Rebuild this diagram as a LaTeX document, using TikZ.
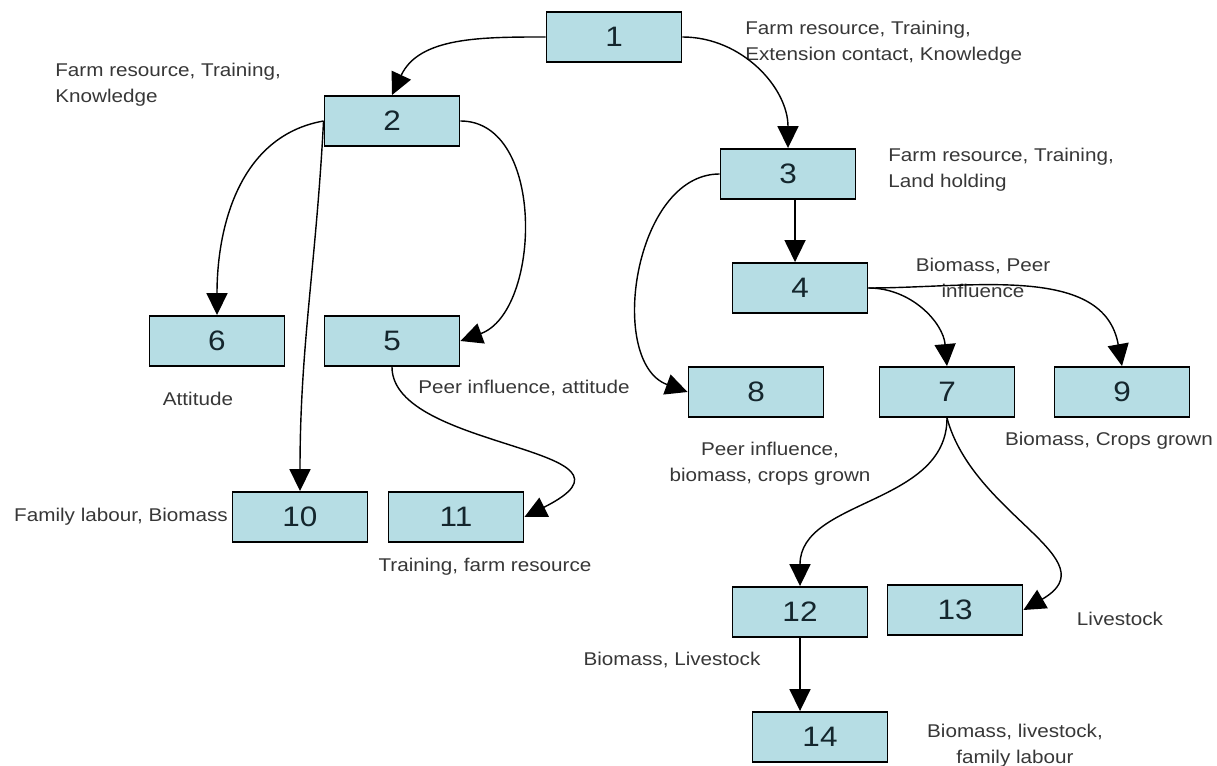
\documentclass[tikz,border=0pt]{standalone}
\usepackage{fontspec}
\setmainfont{Liberation Sans}[FakeStretch=1.12]
\usetikzlibrary{arrows.meta}

\definecolor{boxfill}{RGB}{182,221,228}
\definecolor{labelgray}{RGB}{55,55,55}
\definecolor{numdark}{RGB}{20,38,45}

\begin{document}
\begin{tikzpicture}[x=0.02cm,y=0.02cm,
  box/.style={draw,line width=1.1pt,fill=boxfill,text=numdark,minimum width=2.7cm,minimum height=1cm,font=\fontsize{16}{16}\selectfont},
  lbl/.style={text=labelgray,font=\fontsize{10.5}{14.7}\selectfont,inner sep=0pt},
  link/.style={thick,-{Triangle[length=12.5pt,width=12pt]}}]
  \useasboundingbox (0,0) rectangle (1217,-766);

  % boxes
  \node[box] (n1) at (614,-37) {1};
  \node[box] (n2) at (392,-121) {2};
  \node[box] (n3) at (788,-174) {3};
  \node[box] (n4) at (800,-288) {4};
  \node[box] (n6) at (217,-341) {6};
  \node[box] (n5) at (392,-341) {5};
  \node[box] (n8) at (756,-392) {8};
  \node[box] (n7) at (947,-392) {7};
  \node[box] (n9) at (1122,-392) {9};
  \node[box] (n10) at (300,-517) {10};
  \node[box] (n11) at (456,-517) {11};
  \node[box] (n12) at (800,-612) {12};
  \node[box] (n13) at (955,-610) {13};
  \node[box] (n14) at (820,-737) {14};

  % factors
  \node[lbl,anchor=west,align=left] (f1) at (745,-43) {Farm resource, Training,\\Extension contact, Knowledge};
  \node[lbl,anchor=west,align=left] (f2) at (55,-85) {Farm resource, Training,\\Knowledge};
  \node[lbl,anchor=west,align=left] (f3) at (888,-170) {Farm resource, Training,\\Land holding};
  \node[lbl,align=center] (f4) at (983,-278) {Biomass, Peer\\influence};
  \node[lbl] (f6) at (198,-399) {Attitude};
  \node[lbl,anchor=west] (f5) at (418,-388) {Peer influence, attitude};
  \node[lbl,align=center] (f8) at (770,-464) {Peer influence,\\biomass, crops grown};
  \node[lbl] (f9) at (1109,-441) {Biomass, Crops grown};
  \node[lbl] (f10) at (121,-517) {Family labour, Biomass};
  \node[lbl] (f11) at (485,-567) {Training, farm resource};
  \node[lbl] (f13) at (1120,-619) {Livestock};
  \node[lbl] (f12) at (672,-660) {Biomass, Livestock};
  \node[lbl,align=center] (f14) at (1015,-746) {Biomass, livestock,\\family labour};

  % links
  \draw[link] (n1.west) to[out=180,in=65] (n2.north);
  \draw[link] (n1.east) to[out=0,in=90] (n3.north);
  \draw[link] (n2.west) to[out=190,in=90] (n6.north);
  \draw[link] (n2.west) to[out=-93,in=90] (n10.north);
  \draw[link] (n2.east) to[out=0,in=20] (n5.east);
  \draw[link] (n3.west) to[out=180,in=160] (n8.west);
  \draw[link] ([xshift=4]n3.south) -- ([xshift=4]n3.south |- n4.north);
  \draw[link] (n4.east) to[out=0,in=95] (n7.north);
  \draw[link] (n4.east) to[out=0,in=100] (n9.north);
  \draw[link] (n5.south) .. controls +(0,-84) and +(140,70) .. (n11.east);
  \draw[link] (n7.south) to[out=-90,in=90] (n12.north);
  \draw[link] (n7.south) to[out=-75,in=30,looseness=1.25] (n13.east);
  \draw[link] (n12.south) -- (n12.south |- n14.north);
\end{tikzpicture}
\end{document}
